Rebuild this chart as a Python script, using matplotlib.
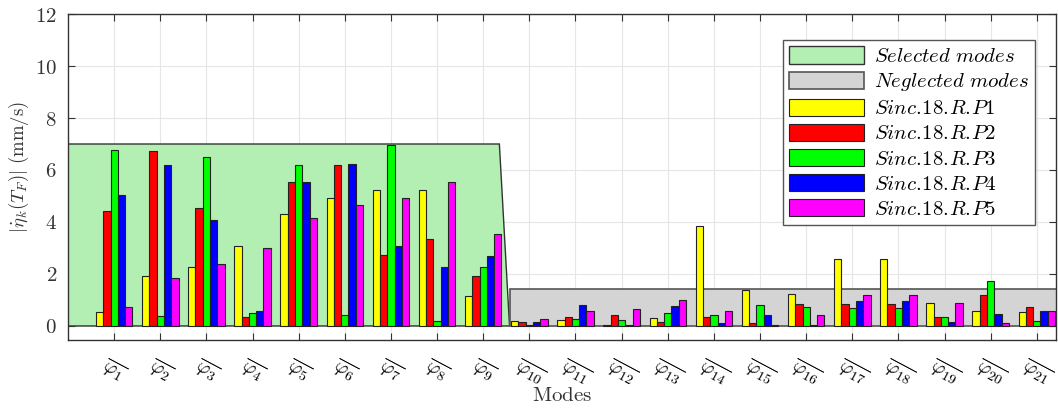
import numpy as np
import matplotlib
matplotlib.use('Agg')
import matplotlib.pyplot as plt
from matplotlib.patches import Polygon
import matplotlib.transforms as mtransforms

plt.rcParams['mathtext.fontset'] = 'cm'
plt.rcParams['font.family'] = 'serif'
plt.rcParams['font.serif'] = ['DejaVu Serif']

# modes on the x axis
modes = np.arange(1, 22)
mode_labels = [r'$\overline{\varphi_{%d}}$' % m for m in modes]

# |eta_dot_k(T_F)| in mm/s
p1 = [0.55, 1.94, 2.28, 3.09, 4.29, 4.94, 5.23, 5.23, 1.17, 0.19,
      0.23, 0.02, 0.31, 3.84, 1.37, 1.23, 2.58, 2.58, 0.88, 0.56, 0.54]
p2 = [4.43, 6.73, 4.53, 0.33, 5.55, 6.18, 2.73, 3.35, 1.92, 0.15,
      0.35, 0.44, 0.17, 0.33, 0.13, 0.83, 0.83, 0.83, 0.36, 1.18, 0.73]
p3 = [6.77, 0.38, 6.49, 0.49, 6.20, 0.42, 6.97, 0.21, 2.26, 0.02,
      0.27, 0.23, 0.51, 0.44, 0.81, 0.72, 0.68, 0.68, 0.33, 1.74, 0.18]
p4 = [5.03, 6.19, 4.09, 0.58, 5.53, 6.23, 3.09, 2.28, 2.68, 0.15,
      0.81, 0.05, 0.78, 0.13, 0.44, 0.05, 0.96, 0.96, 0.14, 0.46, 0.59]
p5 = [0.73, 1.83, 2.37, 2.99, 4.14, 4.65, 4.94, 5.53, 3.54, 0.26,
      0.59, 0.67, 0.99, 0.59, 0.03, 0.44, 1.18, 1.18, 0.88, 0.13, 0.59]

series = [p1, p2, p3, p4, p5]
# \! removes the thin space mathtext puts after a period
names = [r'$Sinc.\!18.\!R.\!P1$', r'$Sinc.\!18.\!R.\!P2$', r'$Sinc.\!18.\!R.\!P3$',
         r'$Sinc.\!18.\!R.\!P4$', r'$Sinc.\!18.\!R.\!P5$']
colors = ['#ffff00', '#ff0000', '#00ff00', '#0000ff', '#ff00ff']

# selected / neglected zones
sel_level = 7.0
sel_end, sel_foot = 9.35, 9.57
neg_level = 1.42

yticks = [0, 2, 4, 6, 8, 10, 12]

fig = plt.figure(figsize=(10.58, 4.09), dpi=100)
ax = fig.add_axes([0.0643, 0.1687, 0.934, 0.797])

ax.add_patch(Polygon([(0, 0), (0, sel_level), (sel_end, sel_level), (sel_foot, 0)],
                     closed=True, facecolor='#b3efb3', edgecolor='#333333',
                     linewidth=1.0, zorder=1, label=r'$Selected\ modes$'))
ax.add_patch(Polygon([(sel_foot, 0), (sel_foot, neg_level), (30, neg_level), (30, 0)],
                     closed=True, facecolor='#d4d4d4', edgecolor='#555555',
                     linewidth=1.2, zorder=1, label=r'$Neglected\ modes$'))

width = 0.158
for i, (vals, name, c) in enumerate(zip(series, names, colors)):
    ax.bar(modes + (i - 2) * width, vals, width, color=c, edgecolor='#222222',
           linewidth=0.8, zorder=2, label=name)

ax.set_xlim(0, 21.42)
ax.set_ylim(-0.54, 12)
ax.set_yticks(yticks)
ax.set_yticklabels([r'$%d$' % v for v in yticks], fontsize=15)
ax.set_xticks(modes)
ax.set_xticklabels(mode_labels, fontsize=14.5, rotation=-28, ha='center')
offset = mtransforms.ScaledTranslation(10 / 100, 0, fig.dpi_scale_trans)
for lab in ax.get_xticklabels():
    lab.set_transform(lab.get_transform() + offset)

ax.set_axisbelow(True)
ax.grid(True, color='#e6e6e6', linewidth=0.8)
ax.tick_params(direction='in', length=5, top=True, right=True, color='#333333')
ax.tick_params(axis='y', pad=8, colors='#333333', labelcolor='#333333')
ax.tick_params(axis='x', pad=11)
for s in ax.spines.values():
    s.set_color('#333333')
    s.set_linewidth(1.0)

ax.set_xlabel(r'$\mathrm{Modes}$', fontsize=15, color='#333333')
ax.xaxis.set_label_coords(0.5, -0.142)
ax.set_ylabel(r'$|\dot{\eta}_k(T_F)|\ (\mathrm{mm/s})$', fontsize=13.5, color='#333333')
ax.yaxis.set_label_coords(-0.037, 0.53)

leg = ax.legend(loc='upper right', bbox_to_anchor=(0.979, 0.92), borderaxespad=0,
                fontsize=15, fancybox=False, framealpha=1, edgecolor='#555555',
                handlelength=3.6, handleheight=0.9, labelspacing=0.25,
                borderpad=0.3, handletextpad=0.5)
leg.get_frame().set_linewidth(1.0)

fig.savefig('out.png', dpi=100)
